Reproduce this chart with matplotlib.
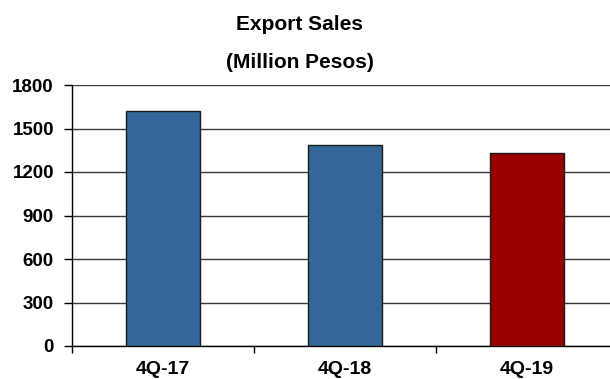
import matplotlib
matplotlib.use("Agg")
import matplotlib.pyplot as plt

# Quarterly export sales, million pesos
quarters = ["4Q-17", "4Q-18", "4Q-19"]
sales = [1620, 1385, 1333]
bar_colors = ["#336699", "#336699", "#990000"]
y_ticks = [0, 300, 600, 900, 1200, 1500, 1800]

plt.rcParams["font.family"] = ["Liberation Sans", "DejaVu Sans"]
plt.rcParams["font.weight"] = "bold"

fig = plt.figure(figsize=(6.10, 3.79), dpi=100)
ax = fig.add_axes([72 / 610, 1 - 346 / 379, 546 / 610, 261 / 379])

x = list(range(len(quarters)))
ax.bar(x, sales, width=0.406, color=bar_colors, edgecolor="#1a1a1a",
       linewidth=1.0, zorder=3)

ax.set_xlim(-0.5, len(quarters) - 0.5)
ax.set_ylim(0, 1800)
ax.set_yticks(y_ticks)
ax.set_yticklabels([str(v) for v in y_ticks], fontsize=13.5, fontweight="bold")
ax.yaxis.grid(True, color="#3a3a3a", linewidth=1.0, zorder=0)
ax.set_axisbelow(True)

ax.set_xticks(x)
ax.set_xticklabels(quarters, fontsize=14, fontweight="bold")
ax.set_xticks([i - 0.5 for i in range(len(quarters) + 1)], minor=True)
ax.tick_params(axis="x", which="major", length=0, pad=11)
ax.tick_params(axis="x", which="minor", length=5, width=1, color="black")
ax.tick_params(axis="y", length=6, width=1, color="black", pad=7)

for side in ("top", "right"):
    ax.spines[side].set_visible(False)
for side in ("left", "bottom"):
    ax.spines[side].set_color("black")
    ax.spines[side].set_linewidth(1.0)

fig.text(300 / 610, 1 - 25 / 379, "Export Sales", ha="center", va="center",
         fontsize=15, fontweight="bold")
fig.text(300 / 610, 1 - 63 / 379, "(Million Pesos)", ha="center", va="center",
         fontsize=15, fontweight="bold")

fig.savefig("out.png", dpi=100, facecolor="white")
